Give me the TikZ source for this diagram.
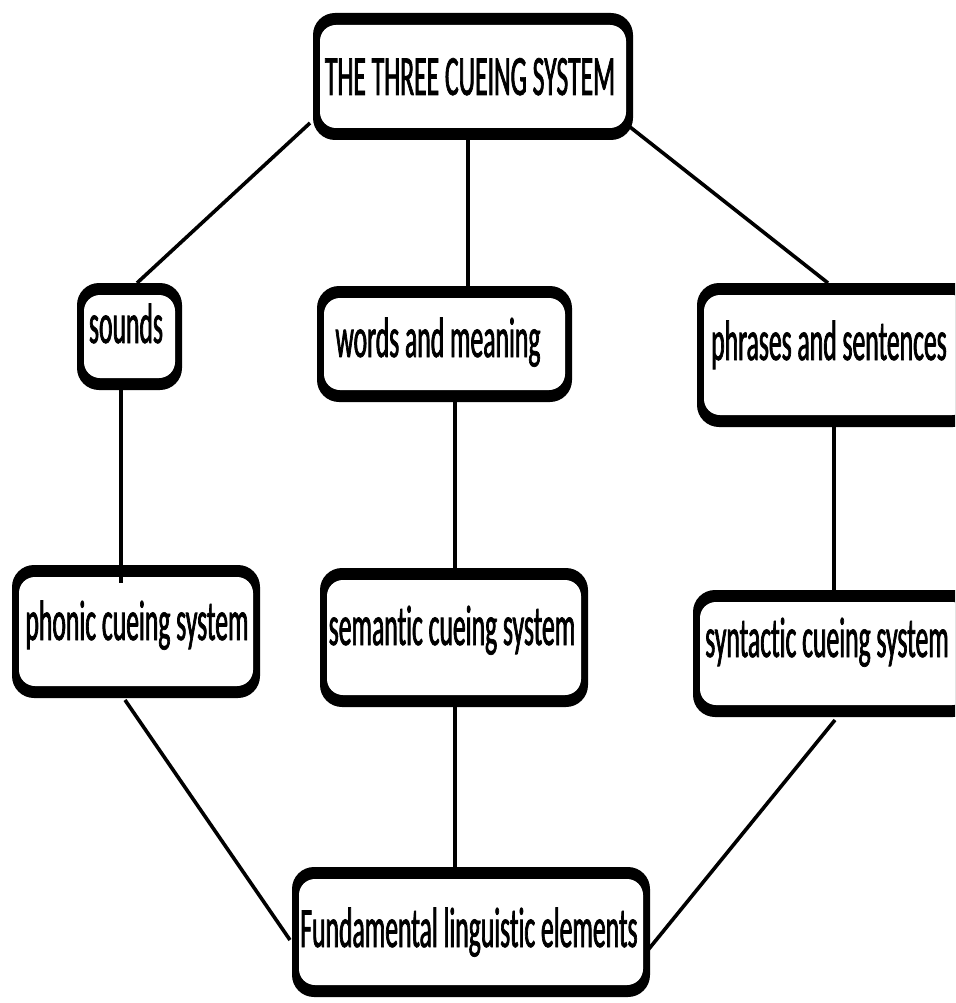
\documentclass[tikz,border=0pt]{standalone}
\usepackage{fontspec}
\usetikzlibrary{calc}
\newfontfamily\cuefont[FakeStretch=0.45, FakeBold=1.2, Ligatures=NoCommon]{Carlito}

\tikzset{
  frame/.style={
    shape=rectangle, rounded corners=22pt, fill=black,
    inner sep=0pt, outer sep=0pt,
    path picture={
      \fill[white, rounded corners=16pt]
        ([shift={(7pt,12pt)}]path picture bounding box.south west)
        rectangle
        ([shift={(-7pt,-12pt)}]path picture bounding box.north east);
    }
  },
  lbl/.style={font=\cuefont\fontsize{57}{60}\selectfont, anchor=base,
    inner sep=0pt, text=black},
  link/.style={draw=black, line width=3.6pt}
}

\begin{document}
\begin{tikzpicture}[x=1pt, y=1pt]
  \useasboundingbox (0,0) rectangle (955,-1003);
  \fill[white] (0,0) rectangle (955,-1003);
  \clip (0,0) rectangle (955,-1003);

  % boxes
  \node[frame, minimum width=320pt, minimum height=127pt] (top)   at (473,-76.5) {};
  \node[frame, minimum width=105pt, minimum height=107pt] (sounds) at (129.5,-336.5) {};
  \node[frame, minimum width=255pt, minimum height=116pt] (words)  at (444.5,-344) {};
  \node[frame, minimum width=278pt, minimum height=144pt] (phrases) at (836,-355) {};
  \node[frame, minimum width=248pt, minimum height=133pt] (phonic) at (136,-631.5) {};
  \node[frame, minimum width=268pt, minimum height=139pt] (semantic) at (454,-637.5) {};
  \node[frame, minimum width=282pt, minimum height=127pt] (syntactic) at (834,-653.5) {};
  \node[frame, minimum width=358pt, minimum height=130pt] (fund)   at (471,-932) {};

  % labels
  \node[lbl] (topT)   at (470,-95)  {THE THREE CUEING SYSTEM};
  \node[lbl] (soundsT) at (126,-343) {sounds};
  \node[lbl] (wordsT) at (438,-357) {words and meaning};
  \node[lbl] (phrasesT) at (829,-360) {phrases and sentences};
  \node[lbl] (phonicT) at (137,-640) {phonic cueing system};
  \node[lbl] (semanticT) at (452,-645) {semantic cueing system};
  \node[lbl] (syntacticT) at (827,-657) {syntactic cueing system};
  \node[lbl] (fundT)  at (469,-947) {Fundamental linguistic elements};

  % connectors
  \draw[link] ($(top.south west)+(-3,17)$) -- ($(sounds.north)+(7.5,0)$);
  \draw[link] ($(top.south east)+(-3,13)$) -- ($(phrases.north)+(-8,0)$);
  \draw[link] ($(top.south)+(-5,0)$) -- ($(top.south |- words.north)+(-5,0)$);
  \draw[link] ($(sounds.south)+(-8.5,0)$) -- ($(sounds.south |- phonic.north)+(-8.5,-18)$);
  \draw[link] ($(words.south)+(10.5,0)$) -- ($(semantic.north)+(1,0)$);
  \draw[link] ($(phrases.south)+(-2,0)$) -- (syntactic.north);
  \draw[link] ($(semantic.south)+(1,0)$) -- ($(fund.north)+(-16,0)$);
  \draw[link] ($(phonic.south)+(-11,-2)$) -- ($(fund.west)+(-2,-8)$);
  \draw[link] ($(syntactic.south)+(1,-3)$) -- ($(fund.east)+(-2,-18)$);
\end{tikzpicture}
\end{document}
